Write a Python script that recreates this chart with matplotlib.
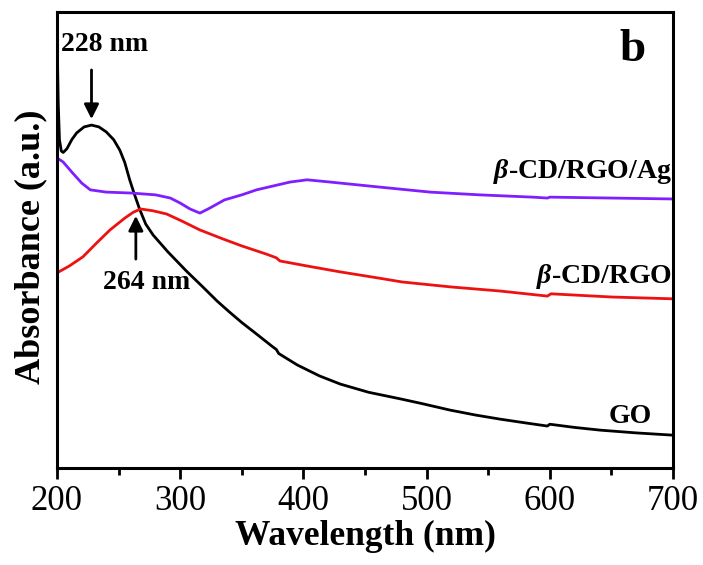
import matplotlib
matplotlib.use("Agg")
import matplotlib.pyplot as plt
from matplotlib.ticker import MultipleLocator

# ---- data ----
go_wl = [200, 200.5, 201, 202, 203.5, 205, 208, 212, 216, 222, 228, 234, 240, 246, 251, 255, 259,
         262.5, 267, 272, 278, 290, 305, 318, 330, 340, 350, 360, 374.5, 378, 380, 395, 413, 430,
         453, 478, 495, 519, 540, 560, 580, 598, 600, 620, 641, 670, 700]
go_abs = [0.99, 0.88, 0.80, 0.72, 0.695, 0.692, 0.700, 0.720, 0.735, 0.748, 0.752, 0.748, 0.737, 0.720,
          0.697, 0.670, 0.632, 0.603, 0.568, 0.535, 0.511, 0.474, 0.432, 0.398, 0.366, 0.342, 0.319,
          0.298, 0.267, 0.260, 0.251, 0.226, 0.202, 0.184, 0.166, 0.152, 0.142, 0.127, 0.116, 0.107,
          0.099, 0.092, 0.096, 0.089, 0.083, 0.077, 0.072]

rgo_wl = [200, 210, 221, 232, 243, 255, 262, 268, 278, 289, 301, 316, 335, 350, 370, 378, 381,
          403, 430, 460, 480, 520, 560, 598, 601, 650, 700]
rgo_abs = [0.428, 0.443, 0.463, 0.493, 0.522, 0.548, 0.561, 0.568, 0.564, 0.557, 0.542, 0.522,
           0.502, 0.487, 0.469, 0.461, 0.454, 0.443, 0.430, 0.417, 0.408, 0.397, 0.388, 0.377,
           0.382, 0.375, 0.371]

ag_wl = [200, 205, 212, 220, 227, 240, 260, 280, 292, 300, 308, 316, 324, 336, 350, 362, 389,
         403, 422, 462, 503, 543, 586, 598, 600, 650, 700]
ag_abs = [0.680, 0.671, 0.649, 0.625, 0.610, 0.605, 0.603, 0.599, 0.592, 0.581, 0.568, 0.559,
          0.570, 0.588, 0.599, 0.610, 0.627, 0.632, 0.627, 0.616, 0.605, 0.599, 0.594, 0.592,
          0.594, 0.592, 0.590]

x_ticks = [200, 300, 400, 500, 600, 700]
series_labels = ["GO", "β-CD/RGO", "β-CD/RGO/Ag"]
peak_labels = ["228 nm", "264 nm"]
peak_wl = [228, 264]

plt.rcParams['font.family'] = ['Liberation Serif', 'DejaVu Serif']
plt.rcParams['mathtext.fontset'] = 'custom'
plt.rcParams['mathtext.it'] = 'Liberation Serif:italic:bold'
plt.rcParams['mathtext.rm'] = 'Liberation Serif:bold'

fig = plt.figure(figsize=(7.03, 5.65), dpi=100)
ax = fig.add_axes([57/703, 1-468/565, (673-57)/703, (468-12)/565])

lw = 2.0
ax.plot(go_wl, go_abs, color='black', lw=lw)
ax.plot(rgo_wl, rgo_abs, color='#ee1111', lw=lw)
ax.plot(ag_wl, ag_abs, color='#7f1fff', lw=lw)

ax.set_xlim(200, 700)
ax.set_ylim(0, 1)
ax.set_xticks(x_ticks)
ax.xaxis.set_minor_locator(MultipleLocator(50))
ax.set_yticks([])
ax.tick_params(axis='x', which='major', direction='out', length=8, width=2, labelsize=25, pad=4)
ax.tick_params(axis='x', which='minor', direction='out', length=5, width=2)
for s in ax.spines.values():
    s.set_linewidth(2.2)

ax.set_xlabel("Wavelength (nm)", fontsize=25.5, fontweight='bold', labelpad=2)
ax.set_ylabel("Absorbance (a.u.)", fontsize=26, fontweight='bold')
ax.yaxis.label.set_verticalalignment('center')
ax.yaxis.set_label_coords(-0.043, 0.485)

# series labels
ax.text(699, 0.651, r"$\beta$-CD/RGO/Ag", ha='right', va='center', fontsize=20, fontweight='bold')
ax.text(699, 0.419, r"$\beta$-CD/RGO", ha='right', va='center', fontsize=20, fontweight='bold')
ax.text(683, 0.114, series_labels[0], ha='right', va='center', fontsize=20, fontweight='bold')

# peak annotations
ax.text(239, 0.928, peak_labels[0], ha='center', va='center', fontsize=20, fontweight='bold')
ax.annotate("", xy=(peak_wl[0], 0.759), xytext=(peak_wl[0], 0.879),
            arrowprops=dict(arrowstyle='-|>', color='black', lw=2, mutation_scale=22))
ax.text(273, 0.406, peak_labels[1], ha='center', va='center', fontsize=20, fontweight='bold')
ax.annotate("", xy=(peak_wl[1], 0.559), xytext=(peak_wl[1], 0.452),
            arrowprops=dict(arrowstyle='-|>', color='black', lw=2, mutation_scale=22))

ax.text(667, 0.917, "b", ha='center', va='center', fontsize=34, fontweight='bold')

fig.savefig("out.png", dpi=100)
